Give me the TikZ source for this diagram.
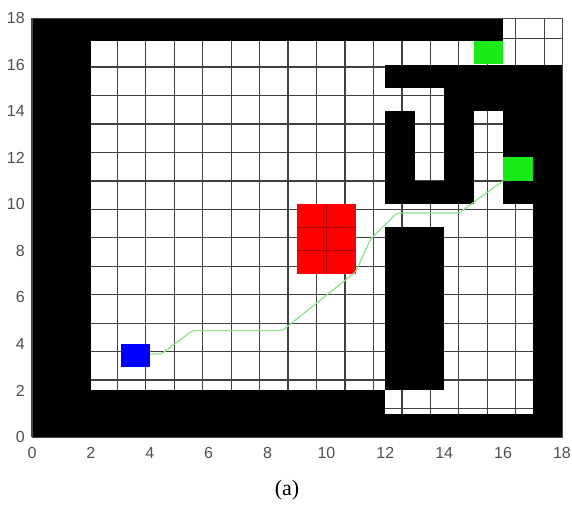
\documentclass[tikz,border=0pt]{standalone}
\usepackage{fontspec}
\setmainfont{Liberation Serif}
\newfontfamily\axisfont{Liberation Sans}
\definecolor{startblue}{RGB}{0,0,255}
\definecolor{obstred}{RGB}{255,0,0}
\definecolor{goalgreen}{RGB}{25,235,25}
\definecolor{pathgreen}{RGB}{140,225,140}
\definecolor{ticktext}{RGB}{80,80,80}
\tikzset{
  gridline/.style={draw=black!75, line width=1.2pt},
  wall/.style={fill=black},
  ticklab/.style={font=\axisfont\fontsize{16}{16}\selectfont, text=ticktext, inner sep=0pt},
  routeline/.style={draw=pathgreen, line width=1.2pt, rounded corners=2pt},
  caption/.style={font=\fontsize{22}{22}\selectfont, inner sep=0pt}
}
\begin{document}
\begin{tikzpicture}[x=29.44pt,y=23.28pt]
\useasboundingbox[fill=white] (-1.087,-2.921) rectangle (18.342,18.771);
% free space grid
\fill[white] (0,0) rectangle (18,18);
\draw[gridline] (0,0) grid (18,18);
% walls
\fill[wall] (0,0) rectangle (2,18);
\fill[wall] (2,17) rectangle (16,18);
\fill[wall] (2,0) rectangle (18,1);
\fill[wall] (2,1) rectangle (12,2);
\fill[wall] (17,1) rectangle (18,16);
\fill[wall] (12,15) rectangle (17,16);
\fill[wall] (14,14) rectangle (17,15);
\fill[wall] (12,10) rectangle (13,14);
\fill[wall] (13,10) rectangle (15,11);
\fill[wall] (14,11) rectangle (15,14);
\fill[wall] (16,12) rectangle (17,14);
\fill[wall] (16,10) rectangle (17,11);
\fill[wall] (12,2) rectangle (14,9);
% frame
\draw[black!70, line width=0.8pt] (0,0) rectangle (18,18);
% cells
\fill[obstred] (9,7) rectangle (11,10);
\draw[line width=0.8pt, draw=black!35!red] (10,7) -- (10,10) (9,8) -- (11,8) (9,9) -- (11,9);
\node[fill=startblue, minimum width=29.44pt, minimum height=23.28pt, inner sep=0pt, anchor=south west] (start) at (3,3) {};
\node[fill=goalgreen, minimum width=29.44pt, minimum height=23.28pt, inner sep=0pt, anchor=south west] (goalA) at (15,16) {};
\node[fill=goalgreen, minimum width=29.44pt, minimum height=23.28pt, inner sep=0pt, anchor=south west] (goalB) at (16,11) {};
% route
\draw[routeline] (start.east) ++(0,0.05) -- (4.4,3.57) -- (5.45,4.57) -- (8.5,4.57) -- (11.0,7.1) -- (11.5,8.5) -- (12.4,9.62) -- (14.5,9.62) -- (goalB.south west);
% tick labels
\foreach \v in {0,2,...,18} {
  \node[ticklab, anchor=center] (xl\v) at (\v,-0.69) {\v};
  \node[ticklab, anchor=east] (yl\v) at (-0.24,\v) {\v};
}
\node[caption] (cap) at (8.66,-2.28) {(a)};
\end{tikzpicture}
\end{document}
